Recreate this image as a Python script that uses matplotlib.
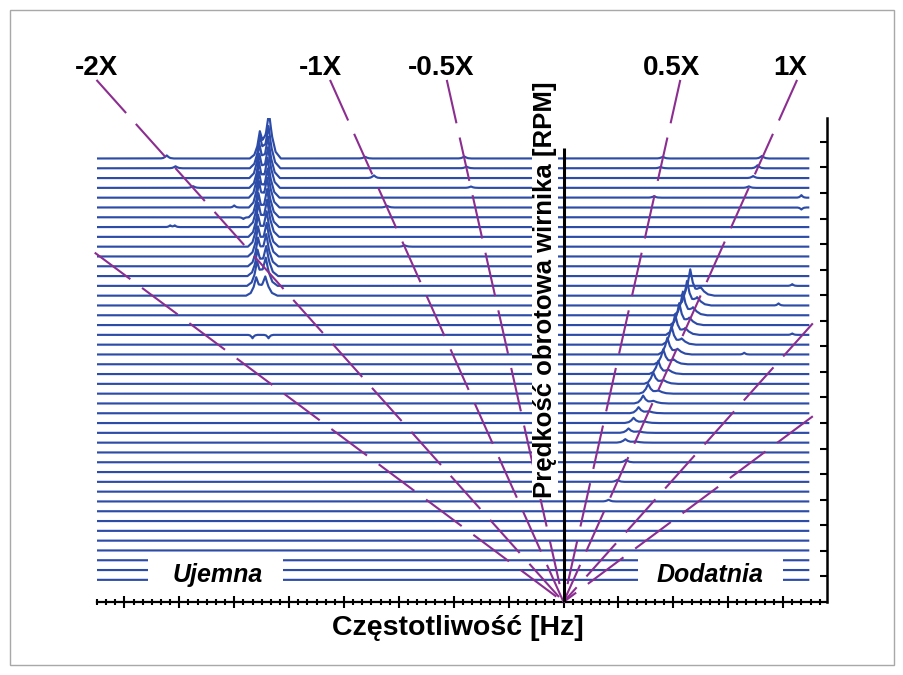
import numpy as np
import matplotlib
matplotlib.use("Agg")
import matplotlib.pyplot as plt
from matplotlib.patches import Rectangle
from matplotlib.ticker import MultipleLocator

plt.rcParams['font.family'] = ['Liberation Sans', 'DejaVu Sans']
plt.rcParams['lines.scale_dashes'] = False

W, H = 904, 675
TRACE_BLUE = '#2d4ca8'
ORDER_PURPLE = '#8c2d90'

# ---------------- axes ranges ----------------
F_MIN, F_MAX = -1020.0, 576.0      # frequency [Hz]
RPM_MAX = 28400.0                   # rotor speed [RPM]
TRACE_F = (-1020.0, 535.0)          # span of each spectrum
AMP_TO_RPM = 100.0                  # 1 um of amplitude drawn as 100 RPM of offset

# ---------------- rotor speeds of the spectra ----------------
speeds = [1300, 1875, 2450, 3025, 3600, 4175, 4750, 5325, 5900, 6475,
          7050, 7625, 8200, 8775, 9350, 9925, 10500, 11075, 11650, 12225,
          12800, 13375, 13950, 14525, 15100, 15675, 16250, 16825, 17400, 17975,
          18550, 19125, 19700, 20275, 20850, 21425, 22000, 22575, 23150, 23725,
          24300, 24875, 25450, 26025]

# ---------------- backward (negative) whirl component ----------------
neg_rows = [43, 42, 41, 40, 39, 38, 37, 36, 35, 34, 33, 32, 31, 30, 29]
neg_freq = [-644, -645, -646, -646, -647, -647, -648, -648, -648, -649, -649, -650, -650, -651, -652]
neg_amp = [26.5, 24.0, 23.5, 23.0, 22.5, 22.0, 22.0, 21.5, 21.0, 20.0, 19.0, 18.0, 17.0, 16.0, 11.0]
neg_left_freq = [-664, -664, -665, -665, -666, -666, -666, -667, -667, -668, -668, -668, -669, -670, -672]
neg_left_amp = [14.0, 17.0, 18.0, 18.0, 19.0, 19.0, 19.0, 18.0, 18.0, 17.0, 16.0, 15.0, 14.0, 13.0, 10.0]

# ---------------- forward (positive) whirl component ----------------
pos_rows = [29, 28, 27, 26, 25, 24, 23, 22, 21, 20, 19, 18, 17, 16, 15, 14]
pos_freq = [277, 270, 261, 253, 244, 236, 227, 218, 207, 196, 185, 174, 164, 153, 142, 135]
pos_amp = [15.0, 14.0, 13.5, 12.5, 11.5, 10.5, 9.5, 8.5, 7.5, 6.5, 5.5, 4.5, 3.5, 3.0, 2.5, 2.0]

# ---------------- small order-synchronous components ----------------
# (row, order, amplitude um)
order_bumps = [
    (43, -2.0, 1.8), (42, -2.0, 1.2), (40, -2.0, 1.0),
    (43, -1.0, 1.0), (41, -1.0, 1.6), (38, -1.0, 1.0), (34, -1.0, 0.8),
    (43, -0.5, 1.2), (42, -0.5, 1.0), (40, -0.5, 0.8),
    (43, 0.5, 1.0), (42, 0.5, 0.8), (39, 0.5, 0.8),
    (43, 1.0, 1.5), (42, 1.0, 1.8), (41, 1.0, 1.2), (40, 1.0, 0.9),
    (12, 1.0, 1.5), (10, 1.0, 1.2), (8, 1.0, 1.0),
]

# (row, frequency Hz, amplitude um) -- isolated features, negative = notch
misc_bumps = [
    (36, -860, 1.0), (36, -850, 1.0), (38, -720, 1.2), (37, -700, -1.0),
    (25, -680, -2.0), (25, -645, -2.0), (39, 520, 1.5), (38, 520, -1.2),
    (28, 470, 1.2), (30, 500, 1.0), (23, 395, 1.0), (25, 500, 0.8),
]

ORDERS = [-3.0, -2.0, -1.0, -0.5, 0.5, 1.0, 2.0, 3.0]
ORDER_TOP_RPM = 30634.0

# order labels: text, x centre [px], baseline [px]
label_text = ['-2X', '-1X', '-0.5X', '0.5X', '1X']
label_x = [96.5, 320, 441, 672, 790]
LABEL_BASE = 75

# spike shape: (offset in half-widths, fraction of peak)
PEAK_PROFILE_X = np.array([-1.0, -0.55, -0.25, 0.0, 0.25, 0.55, 1.0])
PEAK_PROFILE_Y = np.array([0.0, 0.15, 0.5, 1.0, 0.5, 0.15, 0.0])


def spike(f, centre, amp, half_width):
    return np.interp(f, centre + half_width * PEAK_PROFILE_X, amp * PEAK_PROFILE_Y,
                     left=0.0, right=0.0)


fig = plt.figure(figsize=(W / 100, H / 100), dpi=100)
ax = fig.add_axes([97 / W, 1 - 602 / H, (827 - 97) / W, (602 - 118) / H])
ax.set_xlim(F_MIN, F_MAX)
ax.set_ylim(0, RPM_MAX)

# spectra
freq = np.arange(TRACE_F[0], TRACE_F[1] + 0.5, 0.5)
amps = [np.zeros_like(freq) for _ in speeds]
for r, c, a, cl, al in zip(neg_rows, neg_freq, neg_amp, neg_left_freq, neg_left_amp):
    amps[r] += spike(freq, c, a, 26.0)
    amps[r] += spike(freq, cl, al, 22.0)
for r, c, a in zip(pos_rows, pos_freq, pos_amp):
    amps[r] += spike(freq, c, a, 20.0)
    amps[r] += spike(freq, c + 22.0, 0.35 * a, 30.0)
for r, order, a in order_bumps:
    amps[r] += spike(freq, order * speeds[r] / 60.0, a, 14.0)
for r, c, a in misc_bumps:
    amps[r] += spike(freq, c, a, 10.0)

for rpm, amp in zip(speeds, amps):
    ax.plot(freq, rpm + amp * AMP_TO_RPM, color=TRACE_BLUE, lw=1.55, zorder=2,
            solid_joinstyle='round')

# order lines
for order in ORDERS:
    top = ORDER_TOP_RPM
    if order * top / 60.0 < TRACE_F[0] - 5:
        top = (TRACE_F[0] - 5) * 60.0 / order
    if order * top / 60.0 > TRACE_F[1] + 10:
        top = (TRACE_F[1] + 10) * 60.0 / order
    ax.plot([order * top / 60.0, 0.0], [top, 0.0], color=ORDER_PURPLE, lw=1.5,
            dashes=(32, 10.5), zorder=3, clip_on=False)

# label backgrounds cutting the lowest spectra
ax.add_patch(Rectangle((-908, 600), 295, 2250, facecolor='white', edgecolor='none', zorder=4))
ax.add_patch(Rectangle((163, 600), 317, 2250, facecolor='white', edgecolor='none', zorder=4))


def fig_xy(x_px, y_px):
    return x_px / W, 1 - y_px / H


fig.text(*fig_xy(217.5, 582), 'Ujemna', fontsize=18, fontweight='bold', fontstyle='italic',
         ha='center', va='baseline', zorder=5)
fig.text(*fig_xy(710, 582), 'Dodatnia', fontsize=18, fontweight='bold', fontstyle='italic',
         ha='center', va='baseline', zorder=5)

# central speed axis
ax.plot([0, 0], [0, 26643], color='black', lw=2.2, zorder=6, solid_capstyle='butt')

# spines and ticks
for side in ('top', 'left'):
    ax.spines[side].set_visible(False)
ax.spines['bottom'].set_linewidth(1.6)
ax.spines['right'].set_linewidth(1.8)
ax.xaxis.set_major_locator(MultipleLocator(120))
ax.xaxis.set_minor_locator(MultipleLocator(20))
ax.yaxis.tick_right()
ax.tick_params(axis='x', which='major', direction='inout', length=8, width=1.5, labelbottom=False)
ax.tick_params(axis='x', which='minor', direction='inout', length=5, width=1.5)
ax.tick_params(axis='y', which='major', direction='in', length=5, width=1.5,
               left=False, right=True, labelleft=False, labelright=False)
ax.set_yticks(np.arange(1500, 27001, 1500))
ax.set_facecolor('none')

for text, x in zip(label_text, label_x):
    fig.text(*fig_xy(x, LABEL_BASE), text, fontsize=20, fontweight='bold',
             ha='center', va='baseline')

fig.text(*fig_xy(457.5, 635), 'Częstotliwość [Hz]', fontsize=20.5, fontweight='bold',
         ha='center', va='baseline')
fig.text(*fig_xy(545, 290), 'Prędkość obrotowa wirnika [RPM]', fontsize=18.5,
         fontweight='bold', rotation=90, ha='center', va='center', zorder=7,
         bbox=dict(facecolor='white', edgecolor='none', pad=0.5))

fig.patches.append(Rectangle((10 / W, 1 - 665 / H), 884 / W, 655 / H, transform=fig.transFigure,
                             facecolor='none', edgecolor='#a8a8a8', lw=1.0))

fig.savefig('out.png', dpi=100)
